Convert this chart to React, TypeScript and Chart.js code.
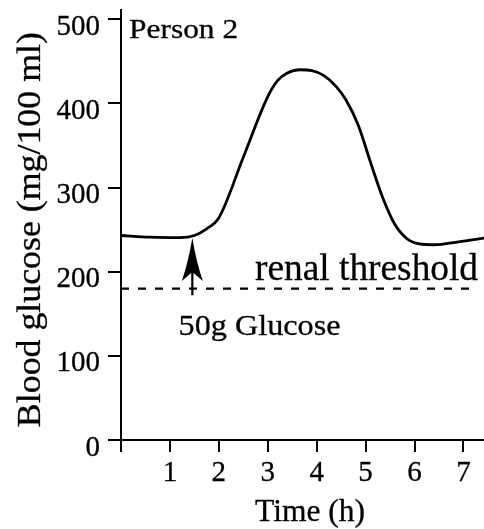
import React, { useEffect, useRef } from 'react';
import { Chart, registerables } from 'chart.js';

Chart.register(...registerables);

// ---- Data ----
const timeHours = [0, 0.6, 1.2, 1.5, 1.75, 2.0, 2.5, 3.0, 3.2, 3.4, 3.65, 3.9, 4.15, 4.4, 4.6, 4.85, 5.1, 5.35, 5.6, 5.85, 6.1, 6.4, 6.9, 7.42];
const glucoseLevels = [243, 241, 240.5, 243, 251, 264, 336, 408, 427, 436, 440, 439, 433, 420, 404, 374, 330, 288, 256, 239, 233, 232, 235.5, 240];

const renalThreshold = 180;
const thresholdSpan = [0, 7.18];

const xTickValues = [0, 1, 2, 3, 4, 5, 6, 7];
const xTickLabels = ['', '1', '2', '3', '4', '5', '6', '7'];
const yTickValues = [0, 100, 200, 300, 400, 500];
const yTickLabels = ['0', '100', '200', '300', '400', '500'];

const xRange = [0, 7.42];
const yRange = [0, 511];

// annotation anchors in data units
const glucoseDoseTime = 1.458;
const arrowTailLevel = 172;
const arrowTipLevel = 240;

const personLabel = 'Person 2';
const renalLabel = 'renal threshold';
const doseLabel = '50g Glucose';
const xTitle = 'Time (h)';
const yTitle = 'Blood glucose (mg/100 ml)';

const FAMILY = '"Liberation Serif"';
const SERIF = '"Liberation Serif", "Times New Roman", serif';
const TEXT_STROKE = 0.3;

function drawFitted(ctx: CanvasRenderingContext2D, text: string, x: number, y: number, size: number, width: number) {
  ctx.save();
  ctx.font = `${size}px ${SERIF}`;
  const w = ctx.measureText(text).width;
  ctx.translate(x, y);
  ctx.scale(width / w, 1);
  ctx.textAlign = 'left';
  ctx.textBaseline = 'alphabetic';
  ctx.fillStyle = '#000';
  ctx.strokeStyle = '#000';
  ctx.lineWidth = TEXT_STROKE;
  ctx.fillText(text, 0, 0);
  ctx.strokeText(text, 0, 0);
  ctx.restore();
}

const annotationPlugin = {
  id: 'annotations',
  afterDatasetsDraw(chart: any) {
    const ctx: CanvasRenderingContext2D = chart.ctx;
    const xs = chart.scales.x;
    const ys = chart.scales.y;
    ctx.save();
    ctx.fillStyle = '#000';
    ctx.strokeStyle = '#000';

    // arrow
    const ax = xs.getPixelForValue(glucoseDoseTime);
    const tipY = ys.getPixelForValue(arrowTipLevel);
    const tailY = ys.getPixelForValue(arrowTailLevel);
    ctx.lineWidth = 2.2;
    ctx.beginPath();
    ctx.moveTo(ax, tailY);
    ctx.lineTo(ax, tipY + 30);
    ctx.stroke();
    ctx.beginPath();
    ctx.moveTo(ax, tipY);
    ctx.quadraticCurveTo(ax + 4, tipY + 24, ax + 10.5, tipY + 43);
    ctx.lineTo(ax, tipY + 34);
    ctx.lineTo(ax - 10.5, tipY + 43);
    ctx.quadraticCurveTo(ax - 4, tipY + 24, ax, tipY);
    ctx.closePath();
    ctx.fill();

    // labels
    drawFitted(ctx, personLabel, xs.getPixelForValue(0.165), ys.getPixelForValue(478), 27, 109);
    drawFitted(ctx, renalLabel, xs.getPixelForValue(2.74), ys.getPixelForValue(190), 38, 223);
    drawFitted(ctx, doseLabel, xs.getPixelForValue(1.176), ys.getPixelForValue(125), 30, 162);

    // axis titles
    drawFitted(ctx, xTitle, xs.getPixelForValue(3.865) - 55, xs.bottom - 8, 31, 110);

    ctx.save();
    ctx.font = `33px ${SERIF}`;
    const ytW = ctx.measureText(yTitle).width;
    ctx.translate(40, ys.getPixelForValue(250));
    ctx.rotate(-Math.PI / 2);
    ctx.scale(395 / ytW, 1);
    ctx.textAlign = 'center';
    ctx.textBaseline = 'alphabetic';
    ctx.lineWidth = TEXT_STROKE;
    ctx.fillText(yTitle, 0, 0);
    ctx.strokeText(yTitle, 0, 0);
    ctx.restore();

    ctx.restore();
  },
};

export default function App() {
  const canvasRef = useRef<HTMLCanvasElement | null>(null);

  useEffect(() => {
    document.body.style.margin = '0';
    const canvas = canvasRef.current;
    if (!canvas) return;
    let chart: Chart | null = null;
    let cancelled = false;

    const build = () => {
      if (cancelled) return;
      const curve = timeHours.map((t, i) => ({ x: t, y: glucoseLevels[i] }));
      const threshold = thresholdSpan.map((t) => ({ x: t, y: renalThreshold }));

      chart = new Chart(canvas, {
        type: 'line',
        data: {
          datasets: [
            {
              data: curve,
              borderColor: '#000',
              borderWidth: 2.8,
              pointRadius: 0,
              cubicInterpolationMode: 'monotone',
              fill: false,
            },
            {
              data: threshold,
              borderColor: '#000',
              borderWidth: 2.2,
              borderDash: [8, 9],
              pointRadius: 0,
              tension: 0,
              fill: false,
            },
          ],
        },
        options: {
          responsive: false,
          animation: false,
          devicePixelRatio: 1,
          layout: { padding: { top: 10, left: 0, right: 0, bottom: 0 } },
          plugins: {
            legend: { display: false },
            tooltip: { enabled: false },
          },
          scales: {
            x: {
              type: 'linear',
              min: xRange[0],
              max: xRange[1],
              afterBuildTicks: (scale: any) => {
                scale.ticks = xTickValues.map((v) => ({ value: v }));
              },
              afterFit: (scale: any) => {
                scale.height = 89;
                scale.paddingLeft = 0;
                scale.paddingRight = 0;
              },
              grid: { drawOnChartArea: false, drawTicks: true, tickLength: 12, color: '#000', lineWidth: 2 },
              border: { display: true, color: '#000', width: 2 },
              ticks: {
                color: '#000',
                font: { family: SERIF, size: 29 },
                padding: 4,
                maxRotation: 0,
                autoSkip: false,
                textStrokeColor: '#000',
                textStrokeWidth: TEXT_STROKE,
                callback: (_v: any, i: number) => xTickLabels[i],
              },
            },
            y: {
              type: 'linear',
              min: yRange[0],
              max: yRange[1],
              afterBuildTicks: (scale: any) => {
                scale.ticks = yTickValues.map((v) => ({ value: v }));
              },
              afterFit: (scale: any) => {
                scale.width = 121;
                scale.paddingTop = 0;
                scale.paddingBottom = 0;
              },
              grid: { drawOnChartArea: false, drawTicks: true, tickLength: 13, color: '#000', lineWidth: 2 },
              border: { display: true, color: '#000', width: 2 },
              ticks: {
                color: '#000',
                font: { family: SERIF, size: 29 },
                padding: 8,
                labelOffset: 8,
                autoSkip: false,
                textStrokeColor: '#000',
                textStrokeWidth: TEXT_STROKE,
                callback: (_v: any, i: number) => yTickLabels[i],
              },
            },
          },
        },
        plugins: [annotationPlugin],
      });
    };

    const fontsApi: any = (document as any).fonts;
    if (fontsApi && fontsApi.load) {
      Promise.all([
        fontsApi.load(`29px ${FAMILY}`),
        fontsApi.load(`38px ${FAMILY}`),
      ]).then(build, build);
    } else {
      build();
    }

    return () => {
      cancelled = true;
      if (chart) chart.destroy();
    };
  }, []);

  return (
    <div style={{ width: 484, height: 529, background: '#fff' }}>
      <canvas ref={canvasRef} width={484} height={529} style={{ display: 'block' }} />
    </div>
  );
}
